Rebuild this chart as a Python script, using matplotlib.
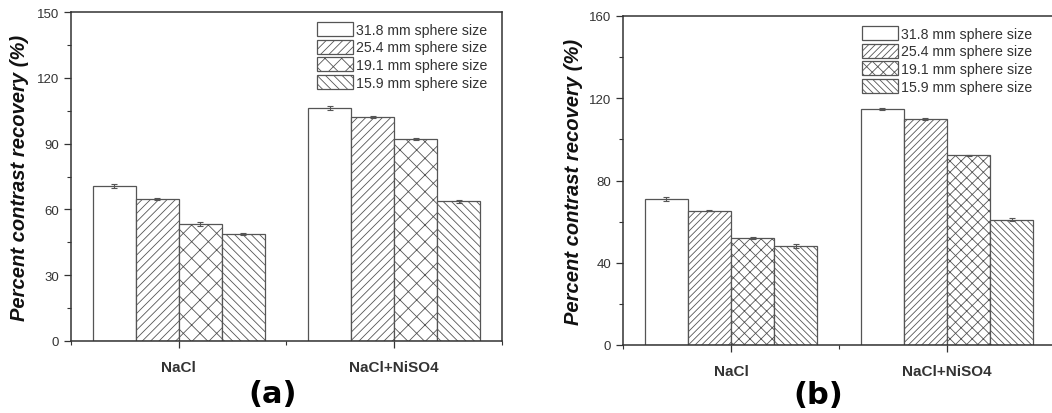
import matplotlib.pyplot as plt
import numpy as np
from matplotlib.ticker import MultipleLocator

plt.rcParams['font.family'] = ['Liberation Sans', 'DejaVu Sans']
plt.rcParams['hatch.linewidth'] = 0.6
plt.rcParams['hatch.color'] = '#555555'

groups = ['NaCl', 'NaCl+NiSO4']
sizes = ['31.8 mm sphere size', '25.4 mm sphere size',
         '19.1 mm sphere size', '15.9 mm sphere size']

# panel (a): rows = sphere size, columns = group
vals_a = [[70.8, 106.2], [64.8, 102.2], [53.5, 92.0], [48.8, 63.7]]
err_a = [[0.9, 1.0], [0.5, 0.5], [0.9, 0.5], [0.6, 0.8]]
# panel (b)
vals_b = [[71.2, 114.9], [65.4, 110.0], [52.1, 92.2], [48.2, 60.9]]
err_b = [[1.0, 0.5], [0.4, 0.4], [0.5, 0.4], [0.8, 0.8]]

edge = '#555555'
txt = '#333333'


def draw_panel(ax, vals, errs, ymax, ystep, hatches, leg_x):
    x = np.arange(1, len(groups) + 1)
    w = 0.2
    for i, lab in enumerate(sizes):
        ax.bar(x + (i - 1.5) * w, vals[i], w, yerr=errs[i], color='white',
               edgecolor=edge, linewidth=0.9, hatch=hatches[i], label=lab,
               error_kw=dict(ecolor=edge, elinewidth=0.8, capsize=2.2, capthick=0.8))
    ax.set_xlim(0.5, 2.5)
    ax.set_ylim(0, ymax)
    ax.xaxis.set_minor_locator(MultipleLocator(0.5))
    ax.yaxis.set_major_locator(MultipleLocator(ystep))
    ax.yaxis.set_minor_locator(MultipleLocator(ystep / 2))
    ax.tick_params(axis='both', which='major', direction='out', length=5,
                   width=0.9, color='#333333', labelsize=9.5, labelcolor=txt)
    ax.tick_params(axis='both', which='minor', direction='out', length=3,
                   width=0.8, color='#333333')
    ax.tick_params(axis='x', which='major', pad=9)
    ax.set_xticks(x)
    ax.set_xticklabels(groups, fontsize=11, fontweight='bold', color=txt)
    for s in ax.spines.values():
        s.set_linewidth(1.1)
        s.set_color('#333333')
    ax.set_ylabel('Percent contrast recovery (%)', fontsize=14.5,
                  fontweight='bold', fontstyle='italic', color='#111111')
    ax.legend(loc='upper right', bbox_to_anchor=(leg_x, 1.0), frameon=False,
              fontsize=10.2, handlelength=2.5, handleheight=1.15,
              handletextpad=0.2, labelspacing=0.2, borderaxespad=0.3,
              labelcolor=txt)


fig = plt.figure(figsize=(10.52, 4.14), dpi=100)
W, H = 1052, 414
ax1 = fig.add_axes([71 / W, 1 - 342 / H, 431 / W, 329 / H])
ax2 = fig.add_axes([623 / W, 1 - 346 / H, 432 / W, 329 / H])

draw_panel(ax1, vals_a, err_a, 150, 30, ['', '////', 'xx', '\\\\\\\\'], 0.988)
draw_panel(ax2, vals_b, err_b, 160, 40, ['', '/////', 'xxx', '\\\\\\\\\\'], 0.97)
ax1.yaxis.set_label_coords(-0.097, 0.5)
ax2.yaxis.set_label_coords(-0.093, 0.5)

fig.text(273 / W, 1 - 395 / H, '(a)', fontsize=22, fontweight='bold',
         family='DejaVu Sans', ha='center', va='center')
fig.text(818 / W, 1 - 396 / H, '(b)', fontsize=22, fontweight='bold',
         family='DejaVu Sans', ha='center', va='center')

fig.savefig('out.png', dpi=100)
